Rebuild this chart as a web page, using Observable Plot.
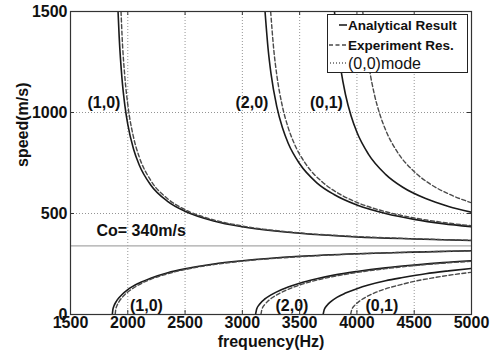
<!DOCTYPE html>
<html><head><meta charset="utf-8">
<script src="https://cdn.jsdelivr.net/npm/d3@7"></script>
<script src="https://cdn.jsdelivr.net/npm/@observablehq/plot@0.6"></script>
<style>body{margin:0;background:#fff} #chart{width:493px;height:354px}</style>
</head><body><div id="chart"></div>
<script>
// ---- data ----
const xTicks = [1500, 2000, 2500, 3000, 3500, 4000, 4500, 5000];
const yTicks = [0, 500, 1000, 1500];
const c0Values = [340];
const c0Label = "Co= 340m/s";
const xLabel = "frequency(Hz)";
const yLabel = "speed(m/s)";
const legendLabels = ["Analytical Result", "Experiment Res.", "(0,0)mode"];

// Analytical (solid) curves: phase (upper) and group (lower) speeds
const a10PhaseF = [1915,1925,1950,1975,2000,2050,2100,2200,2350,2500,2750,3000,3500,4000,4500,5000];
const a10PhaseV = [1500,1373,1164,1033,941,819,740,641,559,511,463,434,402,384,374,366];
const a10GroupF = [1865,1870,1880,1900,1925,1950,2000,2100,2200,2350,2500,2750,3000,3500,4000,4500,5000];
const a10GroupV = [0,25,43,65,84,99,123,156,180,207,226,250,266,288,301,309,316];
const a20PhaseF = [3198,3225,3250,3300,3350,3400,3500,3650,3800,4000,4250,4500,4750,5000];
const a20PhaseV = [1500,1313,1192,1030,924,848,746,652,594,542,500,471,450,435];
const a20GroupF = [3115,3125,3150,3200,3250,3300,3400,3500,3650,3800,4000,4250,4500,4750,5000];
const a20GroupV = [0,27,51,78,97,112,136,155,177,195,213,231,245,257,266];
const a01PhaseF = [3804,3825,3860,3900,3950,4000,4100,4250,4400,4600,4800,5000];
const a01PhaseV = [1500,1368,1212,1089,981,902,794,694,630,574,535,506];
const a01GroupF = [3705,3715,3740,3775,3825,3900,4000,4100,4250,4400,4600,4800,5000];
const a01GroupV = [0,25,46,65,85,106,128,146,167,183,202,216,228];

// Experiment (dashed) curves
const e10PhaseF = [1941,1950,1975,2000,2050,2100,2200,2350,2500,2750,3000,3500,4000,4500,5000];
const e10PhaseV = [1500,1381,1172,1039,878,780,664,572,519,468,438,404,386,375,367];
const e10GroupF = [1890,1895,1905,1925,1950,1975,2000,2100,2200,2350,2500,2750,3000,3500,4000,4500,5000];
const e10GroupV = [0,25,43,65,84,99,111,148,174,202,223,247,264,286,300,309,315];
const e20PhaseF = [3247,3275,3300,3350,3400,3450,3550,3700,3850,4000,4250,4500,4750,5000];
const e20PhaseV = [1500,1306,1188,1029,925,850,748,655,596,555,509,478,456,439];
const e20GroupF = [3162,3172,3200,3250,3300,3350,3450,3550,3700,3850,4000,4250,4500,4750,5000];
const e20GroupV = [0,27,52,79,97,112,136,155,177,194,208,227,242,254,263];
const e01PhaseF = [4051,4075,4110,4150,4200,4250,4350,4500,4650,4800,5000];
const e01PhaseV = [1500,1357,1212,1095,991,914,807,707,642,597,553];
const e01GroupF = [3945,3955,3980,4020,4075,4150,4250,4350,4500,4650,4800,5000];
const e01GroupV = [0,24,45,65,85,106,127,143,164,180,194,209];

// Mode annotations (data coordinates)
const modeLabels = ["(1,0)", "(2,0)", "(0,1)", "(1,0)", "(2,0)", "(0,1)"];
const modeLabelF = [1792, 3084, 3734, 2163, 3433, 4218];
const modeLabelV = [1050, 1050, 1050, 45, 45, 45];
const c0LabelF = 1727, c0LabelV = 416;

// ---- build tables ----
const rows = (curve, F, V) => F.map((f, i) => ({curve, f, v: V[i]}));
const analytical = [
  ...rows("a10p", a10PhaseF, a10PhaseV), ...rows("a10g", a10GroupF, a10GroupV),
  ...rows("a20p", a20PhaseF, a20PhaseV), ...rows("a20g", a20GroupF, a20GroupV),
  ...rows("a01p", a01PhaseF, a01PhaseV), ...rows("a01g", a01GroupF, a01GroupV)
];
const experiment = [
  ...rows("e10p", e10PhaseF, e10PhaseV), ...rows("e10g", e10GroupF, e10GroupV),
  ...rows("e20p", e20PhaseF, e20PhaseV), ...rows("e20g", e20GroupF, e20GroupV),
  ...rows("e01p", e01PhaseF, e01PhaseV), ...rows("e01g", e01GroupF, e01GroupV)
];
const annotations = modeLabels.map((label, i) => ({label, f: modeLabelF[i], v: modeLabelV[i]}));

const font = "'Liberation Sans', Arial, Helvetica, sans-serif";
const fmt = d3.format("d");
const chart = Plot.plot({
  width: 493, height: 354,
  marginLeft: 70, marginRight: 22, marginTop: 11, marginBottom: 40,
  style: {fontFamily: font, fontSize: "16px", fontWeight: "bold", color: "#111", background: "#fff"},
  x: {domain: [1500, 5000]},
  y: {domain: [0, 1500]},
  marks: [
    Plot.gridX(xTicks, {stroke: "#666", strokeOpacity: 1, strokeWidth: 0.7, strokeDasharray: "1,2"}),
    Plot.gridY(yTicks, {stroke: "#666", strokeOpacity: 1, strokeWidth: 0.7, strokeDasharray: "1,2"}),
    Plot.ruleY(c0Values, {stroke: "#a8a8a8", strokeWidth: 1.3}),
    Plot.line(analytical, {x: "f", y: "v", z: "curve", stroke: "#1a1a1a", strokeWidth: 1.6, curve: "monotone-x", clip: true}),
    Plot.line(experiment, {x: "f", y: "v", z: "curve", stroke: "#4a4a4a", strokeWidth: 1.4, strokeDasharray: "4,2.5", curve: "monotone-x", clip: true}),
    Plot.text(annotations, {x: "f", y: "v", text: "label", fontSize: 16, fontWeight: "bold", fill: "#111"}),
    Plot.text([c0Label], {x: () => c0LabelF, y: () => c0LabelV, text: d => d, textAnchor: "start", fontSize: 16, fontWeight: "bold", fill: "#111"}),
    Plot.tickX(xTicks, {x: d => d, insetTop: 299, stroke: "#333"}),
    Plot.tickX(xTicks, {x: d => d, insetBottom: 299, stroke: "#333"}),
    Plot.tickY(yTicks, {y: d => d, insetRight: 397, stroke: "#333"}),
    Plot.tickY(yTicks, {y: d => d, insetLeft: 397, stroke: "#333"}),
    Plot.frame({stroke: "#333", strokeWidth: 1.2}),
    Plot.axisX(xTicks, {tickSize: 0, tickPadding: 2, tickFormat: fmt, label: null, fill: "#111", fontSize: 16}),
    Plot.axisY(yTicks, {tickSize: 0, tickPadding: 3, tickFormat: fmt, label: null, fill: "#111", fontSize: 16}),
    Plot.text([xLabel], {frameAnchor: "bottom", dy: 27, lineAnchor: "middle", text: d => d, fontSize: 16, fontWeight: "bold", fill: "#111"}),
    Plot.text([yLabel], {frameAnchor: "left", dx: -48, dy: 4, rotate: -90, lineAnchor: "middle", text: d => d, fontSize: 16, fontWeight: "bold", fill: "#111"})
  ]
});
document.getElementById("chart").appendChild(chart);

// ---- legend (inside plot, top-right) ----
const svg = d3.select(chart);
const lg = svg.append("g").attr("font-family", font).attr("text-anchor", "start");
lg.append("rect").attr("x", 327.5).attr("y", 14.5).attr("width", 140).attr("height", 58)
  .attr("fill", "#fff").attr("stroke", "#222").attr("stroke-width", 1);
const rowsY = [25, 45, 63];
const samples = [
  {x1: 339, dash: "none", color: "#111", w: 1.5},
  {x1: 329, dash: "4,2.5", color: "#4a4a4a", w: 1.3},
  {x1: 330, dash: "1,2", color: "#111", w: 1.2}
];
legendLabels.forEach((t, i) => {
  const s = samples[i];
  lg.append("line").attr("x1", s.x1).attr("x2", 347).attr("y1", rowsY[i]).attr("y2", rowsY[i])
    .attr("stroke", s.color).attr("stroke-width", s.w).attr("stroke-dasharray", s.dash);
  lg.append("text").attr("x", 348).attr("y", rowsY[i]).attr("dy", "0.35em")
    .attr("text-anchor", "start")
    .attr("font-size", i === 2 ? 16 : 13.5).attr("font-weight", i === 2 ? "normal" : "bold")
    .attr("fill", "#111").text(t);
});
</script>
</body></html>
